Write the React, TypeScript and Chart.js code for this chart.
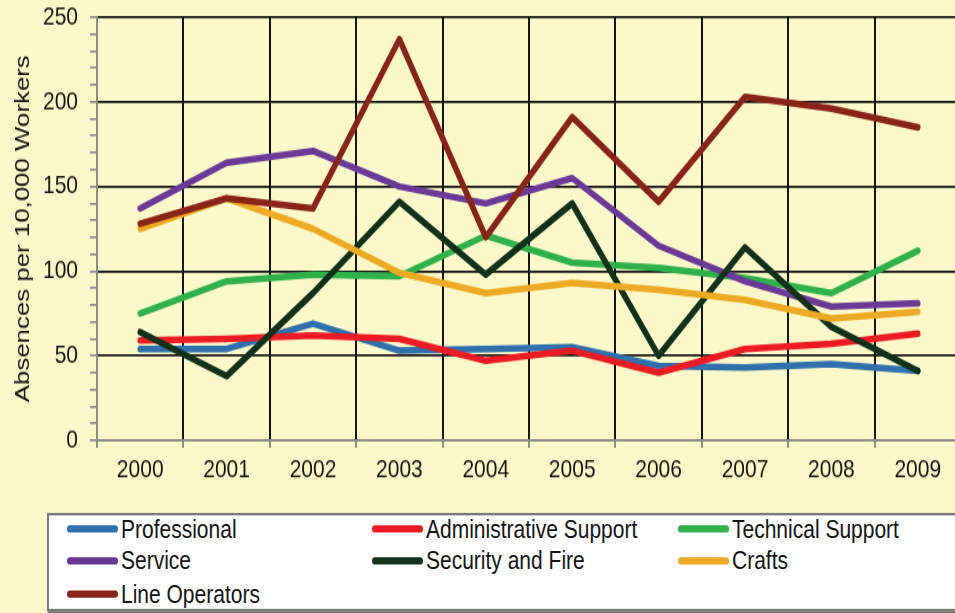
import React, { useEffect, useRef } from 'react';
import { Chart, registerables } from 'chart.js';

Chart.register(...registerables);

// Absence rates by occupational group, 2000-2009
const years = ['2000', '2001', '2002', '2003', '2004', '2005', '2006', '2007', '2008', '2009'];

const professional = [54, 54, 69, 53, 54, 55, 44, 43, 45, 41];
const administrativeSupport = [59, 60, 62, 60, 47, 53, 40, 54, 57, 63];
const technicalSupport = [75, 94, 98, 97, 121, 105, 102, 96, 87, 112];
const service = [137, 164, 171, 150, 140, 155, 115, 94, 79, 81];
const securityAndFire = [64, 38, 87, 141, 98, 140, 50, 114, 67, 41];
const crafts = [125, 143, 125, 99, 87, 93, 89, 83, 72, 76];
const lineOperators = [128, 143, 137, 237, 120, 191, 141, 203, 196, 185];

const seriesNames = [
  'Professional',
  'Administrative Support',
  'Technical Support',
  'Service',
  'Security and Fire',
  'Crafts',
  'Line Operators',
];
const seriesColors = ['#2F70AE', '#ED1C24', '#2FB24B', '#6B3A98', '#12301A', '#EDAA22', '#8A2419'];

const yTitle = 'Absences per 10,000 Workers';

const BG = '#FBF8CA';
const FONT = '"Liberation Sans", Arial, Helvetica, sans-serif';
const STRETCH = 1.23; // vertical stretch of the whole figure
const CANVAS_W = 975;
const CANVAS_H = 410;

export default function App() {
  const canvasRef = useRef<HTMLCanvasElement>(null);
  const series = [professional, administrativeSupport, technicalSupport, service, securityAndFire, crafts, lineOperators];

  useEffect(() => {
    document.body.style.margin = '0';
    document.body.style.background = BG;
    document.body.style.overflow = 'hidden';

    const chart = new Chart(canvasRef.current as HTMLCanvasElement, {
      type: 'line',
      data: {
        labels: years,
        datasets: series.map((d, i) => ({
          label: seriesNames[i],
          data: d,
          borderColor: seriesColors[i],
          backgroundColor: seriesColors[i],
          borderWidth: 5.5,
          pointRadius: 0,
          pointHoverRadius: 0,
          tension: 0,
          borderJoinStyle: 'round' as const,
          borderCapStyle: 'round' as const,
          order: series.length - i,
        })),
      },
      options: {
        responsive: false,
        animation: false,
        events: [],
        layout: { padding: { top: 14, right: 14, left: 0, bottom: 0 } },
        plugins: {
          legend: { display: false },
          tooltip: { enabled: false },
        },
        scales: {
          x: {
            offset: true,
            grid: {
              offset: true,
              color: '#141414',
              lineWidth: 2,
              tickColor: '#8c8c8c',
              tickLength: 6,
            },
            border: { color: '#8c8c8c', width: 2 },
            ticks: {
              color: '#141414',
              font: { family: FONT, size: 21 },
              padding: 6,
              autoSkip: false,
              maxRotation: 0,
            },
            afterFit: (s: any) => {
              s.height = 52;
              s.paddingLeft = 0;
              s.paddingRight = 0;
            },
          },
          y: {
            min: 0,
            max: 250,
            ticks: {
              stepSize: 10,
              autoSkip: false,
              padding: 12,
              color: '#141414',
              font: { family: FONT, size: 21 },
              callback: (v: any) => (Number(v) % 50 === 0 ? String(v) : ''),
            },
            grid: {
              color: (c: any) => (c.tick && c.tick.value % 50 === 0 ? '#141414' : 'rgba(0,0,0,0)'),
              lineWidth: 1.7,
              tickColor: '#8c8c8c',
              tickLength: 7,
            },
            border: { color: '#8c8c8c', width: 2 },
            title: {
              display: true,
              text: yTitle,
              color: '#141414',
              font: { family: FONT, size: 21 },
              padding: { top: 11, bottom: 0 },
            },
            afterFit: (s: any) => {
              s.width = 97;
              s.paddingTop = 0;
              s.paddingBottom = 0;
            },
          },
        },
      },
    });
    return () => chart.destroy();
  }, []);

  const colLefts = [18, 323, 629];
  const rowCenters = [11, 37, 64];

  return (
    <div
      style={{
        position: 'fixed',
        left: 0,
        top: 0,
        width: CANVAS_W,
        height: Math.ceil(613 / STRETCH) + 2,
        background: BG,
        transform: `scale(1, ${STRETCH})`,
        transformOrigin: '0 0',
        overflow: 'hidden',
      }}
    >
      <canvas
        ref={canvasRef}
        width={CANVAS_W}
        height={CANVAS_H}
        style={{ display: 'block', width: CANVAS_W, height: CANVAS_H }}
      />
      <div
        style={{
          position: 'absolute',
          left: 47,
          top: 417,
          width: 960,
          height: 76,
          background: '#ffffff',
          border: '2px solid #7a7a7a',
          boxShadow: '1px 1px 1px #555',
        }}
      >
        {seriesNames.map((name, i) => (
          <div
            key={name}
            style={{
              position: 'absolute',
              left: colLefts[i % 3],
              top: rowCenters[Math.floor(i / 3)] - 13,
              height: 26,
              display: 'flex',
              alignItems: 'center',
              whiteSpace: 'nowrap',
            }}
          >
            <span
              style={{
                display: 'inline-block',
                width: 51,
                height: 6,
                borderRadius: 3,
                background: seriesColors[i],
                marginRight: 3,
              }}
            />
            <span style={{ fontFamily: FONT, fontSize: 21, color: '#141414', lineHeight: '26px' }}>{name}</span>
          </div>
        ))}
      </div>
    </div>
  );
}
